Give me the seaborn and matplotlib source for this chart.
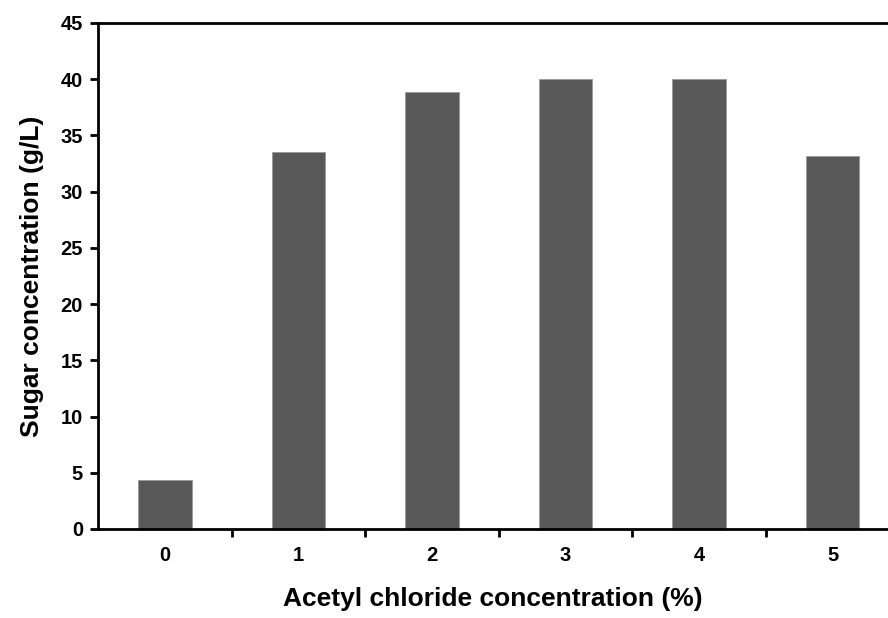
import matplotlib
matplotlib.use("Agg")
import matplotlib.pyplot as plt
import seaborn as sns
import pandas as pd
import numpy as np

categories = ["0", "1", "2", "3", "4", "5"]
sugar = [4.4, 33.5, 38.9, 40.0, 40.0, 33.2]

sns.set_theme(style="white")
plt.rcParams['font.family'] = ['Liberation Sans', 'DejaVu Sans']
plt.rcParams['font.weight'] = 'bold'

df = pd.DataFrame({"Acetyl": categories, "Sugar": sugar})

fig = plt.figure(figsize=(8.88, 6.18), dpi=100)
ax = fig.add_axes([98.3/888, (618-529)/618, (888-98.3)/888, (529-23)/618])

sns.barplot(data=df, x="Acetyl", y="Sugar", ax=ax, color="#595959",
            width=0.4, saturation=1, edgecolor="#9a9a9a", linewidth=0.6)

ax.set_ylim(0, 45)
ax.set_xlim(-0.5, 5.415)
ax.set_yticks(np.arange(0, 46, 5))
ax.set_xticks(range(len(categories)))
ax.set_xticklabels(categories)
ax.set_xticks(np.arange(0.5, 5.0, 1.0), minor=True)

for s in ["left", "bottom", "top"]:
    ax.spines[s].set_visible(True)
    ax.spines[s].set_linewidth(2.0)
    ax.spines[s].set_color("black")
ax.spines["right"].set_visible(False)

ax.tick_params(axis="y", which="major", direction="out", length=6, width=2,
               left=True, labelsize=14.5, pad=5, colors="black")
ax.tick_params(axis="x", which="major", length=0, labelsize=14.5, pad=12, colors="black")
ax.tick_params(axis="x", which="minor", direction="out", length=6, width=2,
               bottom=True, colors="black")
for lab in ax.get_xticklabels() + ax.get_yticklabels():
    lab.set_fontweight("bold")

ax.set_xlabel("Acetyl chloride concentration (%)", fontsize=19, fontweight="bold",
              labelpad=16, color="black")
ax.set_ylabel("Sugar concentration (g/L)", fontsize=19, fontweight="bold",
              labelpad=12, color="black")

fig.savefig("out.png", dpi=100)
